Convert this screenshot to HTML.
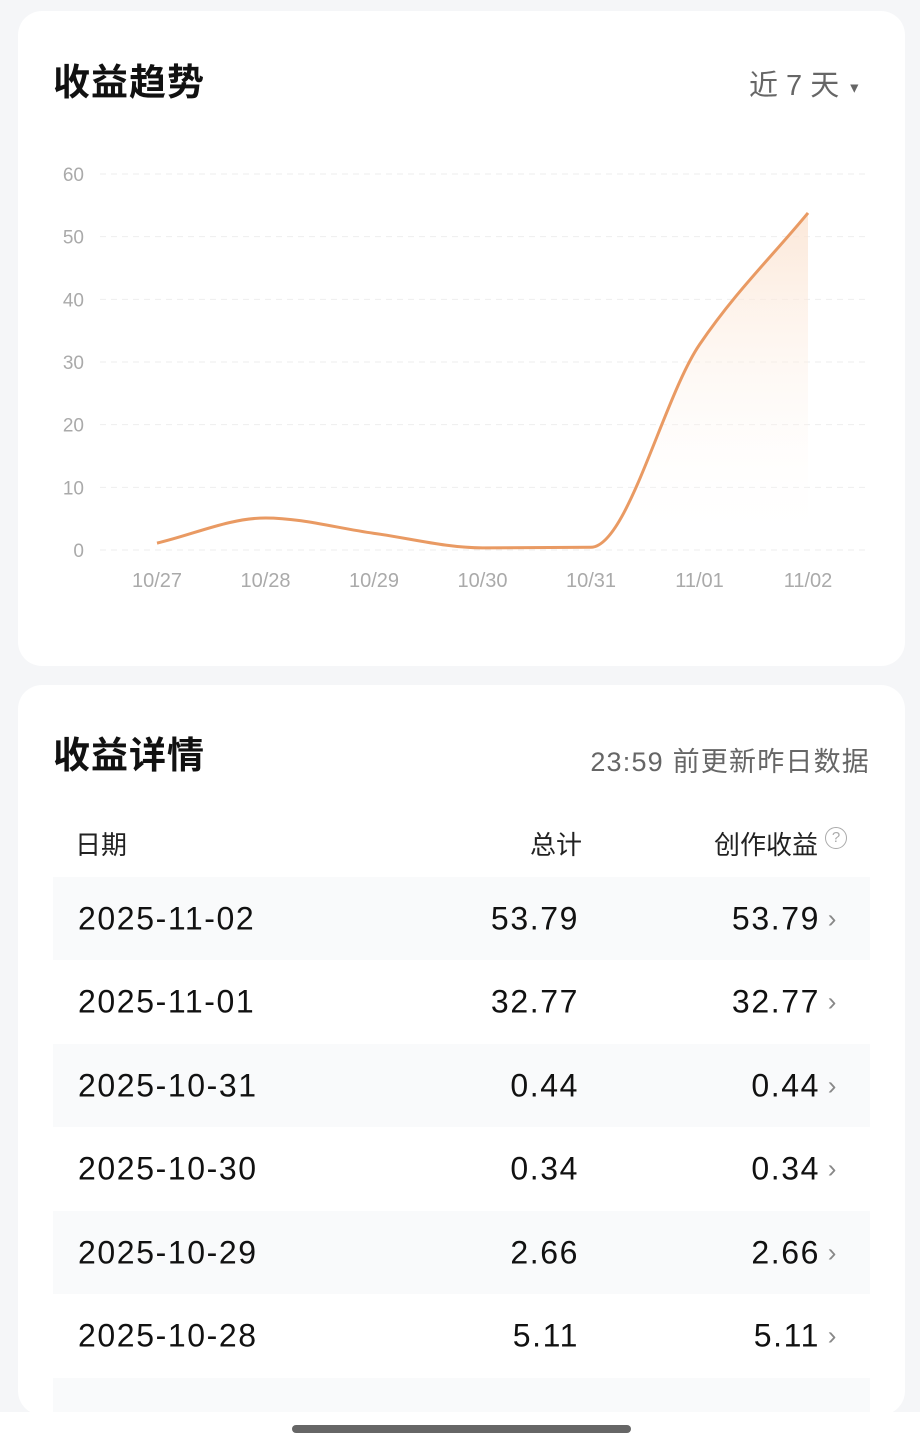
<!DOCTYPE html>
<html><head><meta charset="utf-8"><style>
body{margin:0;width:920px;height:1449px;background:#f5f6f8;font-family:"Liberation Sans","Noto Sans CJK SC",sans-serif;position:relative;overflow:hidden}
.card{position:absolute;left:18px;width:887px;background:#fff;border-radius:24px}
.abs{position:absolute;white-space:nowrap}
.row{position:absolute;left:53px;width:817px;height:83px}
.row .t{position:absolute;top:50%;transform:translateY(-50%);font-size:32px;color:#111;letter-spacing:1.6px}
</style></head><body>
<div class="card" style="top:11px;height:655px"></div>
<div class="abs" style="left:53px;top:52px;font-size:37px;font-weight:bold;color:#111;letter-spacing:1px">收益趋势</div>
<div class="abs" style="left:749px;top:62px;font-size:29px;color:#666">近 7 天 <span style="font-size:14px;vertical-align:middle">▼</span></div>
<svg class="abs" id="chart" style="left:0;top:140px" width="920" height="470"></svg>
<div class="card" style="top:685px;height:730px"></div>
<div class="abs" style="left:53px;top:725px;font-size:37px;font-weight:bold;color:#111;letter-spacing:1px">收益详情</div>
<div class="abs" style="right:50px;top:740px;font-size:27px;color:#666;letter-spacing:1.2px">23:59 前更新昨日数据</div>
<div class="abs" style="left:75px;top:825px;font-size:26px;color:#222">日期</div>
<div class="abs" style="right:338px;top:825px;font-size:26px;color:#222">总计</div>
<div class="abs" style="right:102px;top:825px;font-size:26px;color:#222">创作收益</div>
<div class="abs" style="left:825px;top:827px;width:20px;height:20px;border:1.5px solid #aaa;border-radius:50%;font-size:15px;color:#aaa;text-align:center;line-height:20px">?</div>
<div id="rows"></div>
<div class="abs" style="left:0;top:1412px;width:920px;height:37px;background:#fff"></div>
<div class="abs" style="left:292px;top:1425px;width:339px;height:8px;border-radius:4px;background:#666"></div>
<script>
const dates=["10/27","10/28","10/29","10/30","10/31","11/01","11/02"];
const values=[1.1,5.11,2.66,0.34,0.44,32.77,53.79];
const yTicks=[0,10,20,30,40,50,60];
const rowDates=["2025-11-02","2025-11-01","2025-10-31","2025-10-30","2025-10-29","2025-10-28"];
const rowTotals=["53.79","32.77","0.44","0.34","2.66","5.11"];
const ns="http://www.w3.org/2000/svg";
const svg=document.getElementById('chart');
const oy=140;
const x=i=>157+i*108.5;
const y=v=>550-oy-v*(376/60);
function mk(t,a){const e=document.createElementNS(ns,t);for(const k in a)e.setAttribute(k,a[k]);svg.appendChild(e);return e;}
const defs=mk('defs',{});
defs.innerHTML='<linearGradient id="g" x1="0" y1="0" x2="0" y2="1"><stop offset="0" stop-color="#fbe2cf" stop-opacity="0.8"/><stop offset="1" stop-color="#fff" stop-opacity="0"/></linearGradient>';
yTicks.forEach(v=>{
 const l=mk('line',{x1:100,x2:865,y1:y(v),y2:y(v),stroke:'#eeeeee','stroke-dasharray':'6 5'});
 
 const t=mk('text',{x:84,y:y(v)+7,'text-anchor':'end','font-size':19,fill:'#aaa'});t.textContent=v;
 
});
dates.forEach((d,i)=>{const t=mk('text',{x:x(i),y:447,'text-anchor':'middle','font-size':20,fill:'#aaa'});t.textContent=d;
 });
const n=values.length,px=values.map((v,i)=>x(i)),py=values.map(v=>y(v));
const dk=[],m=[];for(let i=0;i<n-1;i++)dk.push((py[i+1]-py[i])/(px[i+1]-px[i]));
m[0]=dk[0];m[n-1]=dk[n-2];
for(let i=1;i<n-1;i++){m[i]=dk[i-1]*dk[i]<=0?0:2/(1/dk[i-1]+1/dk[i]);}
let d=`M${px[0]},${py[0]}`;
for(let i=0;i<n-1;i++){const h=(px[i+1]-px[i])/3;d+=` C${px[i]+h},${py[i]+m[i]*h} ${px[i+1]-h},${py[i+1]-m[i+1]*h} ${px[i+1]},${py[i+1]}`;}
const area=mk('path',{d:d+` L${px[n-1]},${y(0)} L${px[0]},${y(0)} Z`,fill:'url(#g)'});

const line=mk('path',{d:d,fill:'none',stroke:'#e99a63','stroke-width':3});

const rows=document.getElementById('rows');
rowDates.forEach((rd,i)=>{
 const r=document.createElement('div');r.className='row';
 
 
 r.style.top=(877+i*83.5)+'px';r.style.background=i%2==0?'#f9fafb':'#fff';
 r.innerHTML=`<span class="t" style="left:25px">${rd}</span><span class="t" style="right:291px">${rowTotals[i]}</span><span class="t" style="right:50px">${rowTotals[i]}</span><span class="t" style="right:32px;color:#888;font-size:26px">›</span>`;
 rows.appendChild(r);
});
const r7=document.createElement('div');r7.className='row';


r7.style.top=(877+6*83.5)+'px';r7.style.height='35px';r7.style.background='#f9fafb';rows.appendChild(r7);
</script>
</body></html>
